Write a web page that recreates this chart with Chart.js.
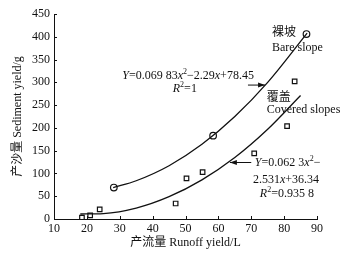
<!DOCTYPE html>
<html>
<head>
<meta charset="utf-8">
<script src="https://cdn.jsdelivr.net/npm/chart.js@4.4.1/dist/chart.umd.min.js"></script>
<style>
  html,body{margin:0;padding:0;background:#fff;}
  #wrap{width:364px;height:257px;position:relative;}
</style>
</head>
<body>
<div id="wrap"><canvas id="chart"></canvas></div>
<script>
// measured points
const bareX = [28.2, 58.4, 86.8];
const bareY = [69, 183, 406];
const coveredX = [18.5, 21.0, 23.9, 47.0, 50.3, 55.2, 70.9, 80.9, 83.2];
const coveredY = [3, 8, 21, 34, 89, 103, 144, 204, 302];

// fitted curves
const bareFitX = [28, 35, 45, 55, 65, 75, 87];
const bareFitY = [69, 84, 117, 164, 225, 300, 408];
const coveredFitX = [18, 25, 35, 45, 55, 65, 75, 85];
const coveredFitY = [11, 12, 24, 49, 86, 135, 197, 271];

const xTicks = [10, 20, 30, 40, 50, 60, 70, 80, 90];
const yTicks = [0, 50, 100, 150, 200, 250, 300, 350, 400, 450];

const serif = "'Liberation Serif', 'Times New Roman', 'Noto Sans CJK SC', serif";
const toPts = (xs, ys) => xs.map((x, i) => ({x: x, y: ys[i]}));

// rich text: [text, 'i' italic | 's' superscript | '' plain]
function richText(ctx, parts, x, y, align) {
  const fnt = (k) => (k === 'i' ? 'italic ' : '') + (k === 's' ? '8px ' : '12px ') + serif;
  let w = 0;
  parts.forEach(p => { ctx.font = fnt(p[1]); w += ctx.measureText(p[0]).width; });
  let cx = align === 'right' ? x - w : align === 'center' ? x - w / 2 : x;
  ctx.textBaseline = 'middle';
  ctx.textAlign = 'left';
  parts.forEach(p => {
    ctx.font = fnt(p[1]);
    ctx.fillText(p[0], cx, p[1] === 's' ? y - 4 : y);
    cx += ctx.measureText(p[0]).width;
  });
}

function arrow(ctx, x1, y1, x2, y2) {
  ctx.beginPath();
  ctx.moveTo(x1, y1);
  ctx.lineTo(x2, y2);
  ctx.stroke();
  const a = Math.atan2(y2 - y1, x2 - x1);
  ctx.beginPath();
  ctx.moveTo(x2, y2);
  ctx.lineTo(x2 - 7 * Math.cos(a) + 2.5 * Math.sin(a), y2 - 7 * Math.sin(a) - 2.5 * Math.cos(a));
  ctx.lineTo(x2 - 7 * Math.cos(a) - 2.5 * Math.sin(a), y2 - 7 * Math.sin(a) + 2.5 * Math.cos(a));
  ctx.closePath();
  ctx.fill();
}

const notes = {
  id: 'notes',
  afterDraw(chart) {
    const ctx = chart.ctx, xs = chart.scales.x, ys = chart.scales.y;
    const X = v => xs.getPixelForValue(v), Y = v => ys.getPixelForValue(v);
    ctx.save();
    ctx.fillStyle = '#111';
    ctx.strokeStyle = '#111';
    ctx.lineWidth = 1;

    // inward tick marks
    ctx.beginPath();
    yTicks.forEach(t => { ctx.moveTo(xs.left, Math.round(Y(t)) + 0.5); ctx.lineTo(xs.left + 3, Math.round(Y(t)) + 0.5); });
    xTicks.forEach(t => { ctx.moveTo(Math.round(X(t)) + 0.5, ys.bottom); ctx.lineTo(Math.round(X(t)) + 0.5, ys.bottom - 3); });
    ctx.stroke();

    ctx.font = '12px ' + serif;
    ctx.textBaseline = 'middle';
    ctx.textAlign = 'left';
    ctx.fillText('裸坡', X(76.3), Y(408));
    ctx.fillText('Bare slope', X(76.3), Y(375));
    ctx.fillText('覆盖', X(74.7), Y(267));
    ctx.fillText('Covered slopes', X(74.7), Y(239));

    richText(ctx, [['Y', 'i'], ['=0.069 83', ''], ['x', 'i'], ['2', 's'], ['\u22122.29', ''], ['x', 'i'], ['+78.45', '']], X(70.8), Y(314), 'right');
    richText(ctx, [['R', 'i'], ['2', 's'], ['=1', '']], X(49.8), Y(285), 'center');
    arrow(ctx, X(69), Y(294), X(74.2), Y(294));

    richText(ctx, [['Y', 'i'], ['=0.062 3', ''], ['x', 'i'], ['2', 's'], ['\u2212', '']], X(71.1), Y(123), 'left');
    richText(ctx, [['2.531', ''], ['x', 'i'], ['+36.34', '']], X(70.5), Y(85), 'left');
    richText(ctx, [['R', 'i'], ['2', 's'], ['=0.935 8', '']], X(72.6), Y(56), 'left');
    arrow(ctx, X(70), Y(124), X(63.5), Y(124));
    ctx.restore();
  }
};

new Chart(document.getElementById('chart'), {
  type: 'scatter',
  data: {
    datasets: [
      {data: toPts(bareFitX, bareFitY), showLine: true, borderColor: '#111', borderWidth: 1.3,
       pointRadius: 0, cubicInterpolationMode: 'monotone', fill: false},
      {data: toPts(coveredFitX, coveredFitY), showLine: true, borderColor: '#111', borderWidth: 1.3,
       pointRadius: 0, cubicInterpolationMode: 'monotone', fill: false},
      {data: toPts(bareX, bareY), pointStyle: 'circle', pointRadius: 3.3, borderWidth: 1.2,
       borderColor: '#111', backgroundColor: 'rgba(255,255,255,0)'},
      {data: toPts(coveredX, coveredY), pointStyle: 'rect', pointRadius: 3.2, borderWidth: 1.2,
       borderColor: '#111', backgroundColor: 'rgba(255,255,255,0)'}
    ]
  },
  options: {
    responsive: true,
    maintainAspectRatio: false,
    animation: false,
    layout: {padding: {top: 14, right: 47, left: 0, bottom: 0}},
    plugins: {legend: {display: false}, tooltip: {enabled: false}},
    scales: {
      x: {
        type: 'linear', min: 10, max: 90,
        afterBuildTicks: s => { s.ticks = xTicks.map(v => ({value: v})); },
        afterFit: s => { s.height = 38; },
        grid: {display: false, drawTicks: false},
        border: {display: true, color: '#111', width: 1},
        ticks: {color: '#111', padding: 3, font: {family: serif, size: 12}},
        title: {display: true, text: '产流量 Runoff yield/L', color: '#111',
                font: {family: serif, size: 12}, padding: {top: 0, bottom: 7}}
      },
      y: {
        type: 'linear', min: 0, max: 450,
        afterBuildTicks: s => { s.ticks = yTicks.map(v => ({value: v})); },
        afterFit: s => { s.width = 54; },
        grid: {display: false, drawTicks: false},
        border: {display: true, color: '#111', width: 1},
        ticks: {color: '#111', padding: 4, font: {family: serif, size: 12}},
        title: {display: true, text: '产沙量 Sediment yield/g', color: '#111',
                font: {family: serif, size: 12}, padding: {top: 11, bottom: 0}}
      }
    }
  },
  plugins: [notes]
});
</script>
</body>
</html>
